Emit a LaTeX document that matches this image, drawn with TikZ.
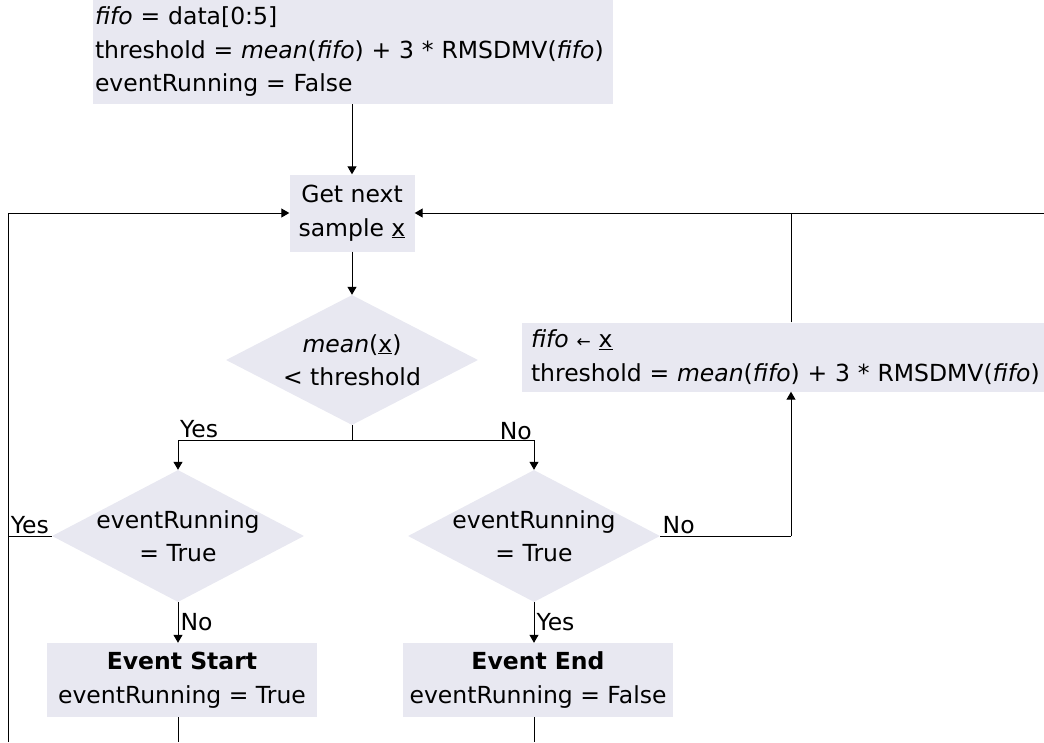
\documentclass[tikz,border=0pt]{standalone}
\usepackage{fontspec}
\setmainfont{DejaVu Sans}
\usetikzlibrary{shapes.geometric,arrows.meta}
\definecolor{boxfill}{RGB}{232,232,241}

\begin{document}
\begin{tikzpicture}[x=1pt,y=-1pt,
    every node/.style={font=\fontsize{23.5}{33.5}\selectfont},
    block/.style={rectangle, fill=boxfill, inner sep=0pt},
    decision/.style={diamond, fill=boxfill, inner sep=0pt,
      minimum width=252pt, minimum height=132pt},
    line/.style={line width=1pt},
    arrow/.style={line, -{Triangle[width=9pt,length=8pt]}},
    tag/.style={inner sep=2pt}]
  \useasboundingbox (0,0) rectangle (1044,742);

  % boxes
  \node[block, minimum width=520pt, minimum height=104pt, text width=516pt, align=left]
    (init) at (353,52)
    {\textit{fifo} = data[0:5]\\threshold = \textit{mean}(\textit{fifo}) + 3 * RMSDMV(\textit{fifo})\\eventRunning = False};
  \node[block, minimum width=125pt, minimum height=77pt, align=center]
    (get) at (352,213) {Get next\\sample \underline{x}};
  \node[block, minimum width=534pt, minimum height=69pt, text width=516pt, align=left]
    (upd) at (789,357)
    {\textit{fifo} {\fontsize{17}{20}\selectfont ←} \underline{x}\\threshold = \textit{mean}(\textit{fifo}) + 3 * RMSDMV(\textit{fifo})};
  \node[block, minimum width=270pt, minimum height=74pt, align=center]
    (start) at (182,680) {\textbf{Event Start}\\eventRunning = True};
  \node[block, minimum width=270pt, minimum height=74pt, align=center]
    (stop) at (538,680) {\textbf{Event End}\\eventRunning = False};

  % decisions
  \node[decision, minimum height=130pt,
    label={[align=center]center:{\textit{mean}(\underline{x})\\< threshold}}]
    (cond) at (352,360) {};
  \node[decision, label={[align=center]center:{eventRunning\\= True}}]
    (evL) at (178,536) {};
  \node[decision, label={[align=center]center:{eventRunning\\= True}}]
    (evR) at (534,536) {};

  % joints
  \coordinate (split) at (352,440);
  \coordinate (lft) at (8,536);
  \coordinate (lbot) at (8,742);
  \coordinate (rjoin) at (791,536);
  \coordinate (rtop) at (791,213);
  \coordinate (redge) at (1044,213);

  % connectors
  \draw[arrow] (init.south -| get.north) -- (get.north);
  \draw[arrow] (get.south) -- (cond.north);
  \draw[line] (cond.south) -- (split);
  \draw[arrow] (split) -| (evL.north);
  \draw[arrow] (split) -| (evR.north);
  \node[tag, anchor=south west] (yesA) at (178,440) {Yes};
  \node[tag, anchor=south east] (noA) at (534,442) {No};

  \draw[arrow] (evL.south) -- (evL.south |- start.north)
    node[midway, right, tag] (noB) {No};
  \draw[arrow] (evR.south) -- (evR.south |- stop.north)
    node[midway, right, tag] (yesB) {Yes};

  \draw[line] (evL.west) -- (lft) node[midway, above, tag] (yesC) {Yes};
  \draw[arrow] (lbot) |- (get.west);

  \draw[line] (evR.east) -- (rjoin) node[pos=0, anchor=south west, tag] (noC) {No};
  \draw[arrow] (rjoin) -- (rjoin |- upd.south);
  \draw[line] (rjoin |- upd.north) -- (rtop);
  \draw[arrow] (redge) -- (get.east);

  \draw[line] (evL.south |- start.south) -- (evL.south |- lbot);
  \draw[line] (evR.south |- stop.south) -- (evR.south |- lbot);
\end{tikzpicture}
\end{document}
